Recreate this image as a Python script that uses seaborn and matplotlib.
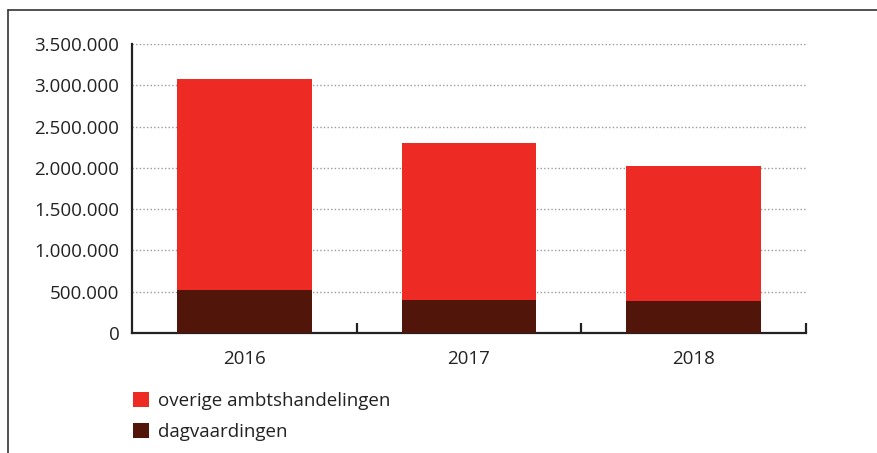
import matplotlib
matplotlib.use("Agg")
import matplotlib.pyplot as plt
import seaborn as sns
import pandas as pd
import numpy as np
from matplotlib.ticker import FuncFormatter, FixedLocator
from matplotlib.lines import Line2D
from matplotlib.patches import Patch

years = ["2016", "2017", "2018"]
dagvaardingen = [520000, 400000, 387000]
overige = [2555000, 1900000, 1633000]
series_names = ["overige ambtshandelingen", "dagvaardingen"]
yticks = [0, 500000, 1000000, 1500000, 2000000, 2500000, 3000000, 3500000]

RED = "#EE2A24"
DARK = "#52150A"

sns.set_theme(style="white")
plt.rcParams["font.family"] = ["Open Sans", "DejaVu Sans"]

df = pd.DataFrame({
    "year": years,
    "dag": dagvaardingen,
    "total": [d + o for d, o in zip(dagvaardingen, overige)],
})

W, H = 878, 453
fig = plt.figure(figsize=(W / 100, H / 100), dpi=100)
ax = fig.add_axes([132 / W, (H - 333) / H, (806 - 132) / W, (333 - 44) / H])

sns.barplot(data=df, x="year", y="total", color=RED, width=0.6, ax=ax,
            saturation=1, linewidth=0, edgecolor="none", zorder=3)
sns.barplot(data=df, x="year", y="dag", color=DARK, width=0.6, ax=ax,
            saturation=1, linewidth=0, edgecolor="none", zorder=3)

ax.set_xlim(-0.5, 2.5)
ax.set_ylim(0, 3500000)
ax.set_yticks(yticks)
ax.yaxis.set_major_formatter(FuncFormatter(lambda v, p: f"{int(v):,}".replace(",", ".")))
ax.set_xlabel("")
ax.set_ylabel("")

for v in yticks[1:]:
    ax.axhline(v, color="#9a9a9a", lw=1.0, ls=(0, (1, 1.6)), zorder=1)

for s in ["top", "right"]:
    ax.spines[s].set_visible(False)
for s in ["left", "bottom"]:
    ax.spines[s].set_color("#222222")
    ax.spines[s].set_linewidth(1.6)

ax.tick_params(axis="y", length=0, pad=9, labelsize=13.5, labelcolor="#222222")
ax.tick_params(axis="x", which="major", length=0, pad=12, labelsize=13.5, labelcolor="#222222")
ax.xaxis.set_minor_locator(FixedLocator([0.5, 1.5, 2.5]))
ax.tick_params(axis="x", which="minor", bottom=True, direction="in", length=7,
               width=1.6, color="#222222")

handles = [Patch(facecolor=RED, edgecolor="none"), Patch(facecolor=DARK, edgecolor="none")]
fig.legend(handles, series_names, loc="upper left",
           bbox_to_anchor=(116 / W, 1 - 375 / H), frameon=False,
           fontsize=13.5, handlelength=0.85, handleheight=0.85,
           handletextpad=0.5, labelspacing=0.68, labelcolor="#222222")

# frame lines
fig.add_artist(Line2D([8 / W, 1], [1 - 10 / H, 1 - 10 / H], color="#333333", lw=1.2,
                      transform=fig.transFigure))
fig.add_artist(Line2D([8 / W, 8 / W], [0, 1 - 10 / H], color="#333333", lw=1.2,
                      transform=fig.transFigure))

fig.savefig("out.png", dpi=100)
